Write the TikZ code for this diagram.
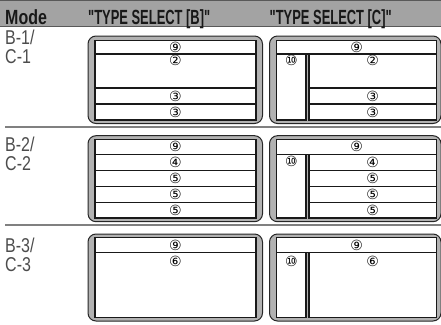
\documentclass[tikz,border=0pt]{standalone}
\usepackage{fontspec}
\setmainfont{Liberation Sans}
\newfontfamily\headfont{Liberation Sans}[FakeStretch=0.63]
\newfontfamily\modehead{Liberation Sans}[FakeStretch=0.78]
\newfontfamily\modefont{Liberation Sans}[FakeStretch=0.8]
\newfontfamily\circfont{DejaVu Sans}
\usetikzlibrary{positioning}
\begin{document}
\begin{tikzpicture}[x=1pt,y=-1pt,
  band/.style={fill=black!36, draw=black!65, line width=0.8pt},
  frame/.style={draw=black!85, fill=black!30, line width=1pt, rounded corners=8pt},
  row/.style={draw=black!90, fill=white, line width=1.1pt, inner sep=0pt, font=\circfont\fontsize{14}{14}\selectfont},
  sep/.style={draw=black!50, line width=1.3pt},
  num/.style={font=\circfont\fontsize{14}{14}\selectfont, inner sep=0pt},
  head/.style={anchor=base west, inner sep=0pt, text=black!90, font=\headfont\bfseries\fontsize{20.5}{20.5}\selectfont},
  modelbl/.style={anchor=base west, inner sep=0pt, text=black!70, font=\modefont\fontsize{20}{20}\selectfont}]
\useasboundingbox (0,0) rectangle (441,324);
% header
\draw[band] (-2,0.5) rectangle (443,26.5);
\node[head, font=\modehead\bfseries\fontsize{20.5}{20.5}\selectfont] (hmode) at (5,24.5) {Mode};
\node[head] (htypeb) at (88,24.5) {"TYPE SELECT [B]"};
\node[head] (htypec) at (269.5,24.5) {"TYPE SELECT [C]"};
% separators
\draw[sep] (5,127) -- (443,127);
\draw[sep] (5,225) -- (443,225);
% mode labels
\node[modelbl] (m1b) at (5,44) {B-1/};
\node[modelbl] (m1c) at (5,63) {C-1};
\node[modelbl] (m2b) at (5,151.5) {B-2/};
\node[modelbl] (m2c) at (5,170.5) {C-2};
\node[modelbl] (m3b) at (5,252.5) {B-3/};
\node[modelbl] (m3c) at (5,271.5) {C-3};
% B-1 / C-1
\draw[frame] (88,36) rectangle (262.5,123.5);
\node[row, minimum width=161pt, minimum height=13.3pt] (b1r9) at (175.5,47.35) {⑨};
\node[row, minimum width=161pt, minimum height=34pt] (b1r2) at (175.5,71) {};
\node[num, below=2pt of b1r2.north] (b1n2) {②};
\node[row, minimum width=161pt, minimum height=16pt] (b1r3a) at (175.5,96) {③};
\node[row, minimum width=161pt, minimum height=16pt] (b1r3b) at (175.5,112) {③};
\draw[frame] (269.5,36) rectangle (441,123.5);
\node[row, minimum width=159.8pt, minimum height=13.3pt] (c1r9) at (356.6,47.35) {⑨};
\node[row, minimum width=29.3pt, minimum height=66pt] (c1r10) at (291.35,87) {};
\node[num, below=2pt of c1r10.north] (c1n10) {⑩};
\node[row, minimum width=127.5pt, minimum height=34pt] (c1r2) at (372.75,71) {};
\node[num, below=2pt of c1r2.north] (c1n2) {②};
\node[row, minimum width=127.5pt, minimum height=16pt] (c1r3a) at (372.75,96) {③};
\node[row, minimum width=127.5pt, minimum height=16pt] (c1r3b) at (372.75,112) {③};
% B-2 / C-2
\draw[frame] (88,135.7) rectangle (262.5,221.7);
\node[row, minimum width=161pt, minimum height=15pt] (b2r9) at (175.5,146.8) {⑨};
\node[row, minimum width=161pt, minimum height=16pt] (b2r4) at (175.5,162.3) {④};
\node[row, minimum width=161pt, minimum height=16pt] (b2r5a) at (175.5,178.3) {⑤};
\node[row, minimum width=161pt, minimum height=16pt] (b2r5b) at (175.5,194.3) {⑤};
\node[row, minimum width=161pt, minimum height=15.7pt] (b2r5c) at (175.5,210.15) {⑤};
\draw[frame] (269.5,135.7) rectangle (441,221.7);
\node[row, minimum width=159.8pt, minimum height=15pt] (c2r9) at (356.6,146.8) {⑨};
\node[row, minimum width=29.3pt, minimum height=63.7pt] (c2r10) at (291.35,186.15) {};
\node[num, below=2pt of c2r10.north] (c2n10) {⑩};
\node[row, minimum width=127.5pt, minimum height=16pt] (c2r4) at (372.75,162.3) {④};
\node[row, minimum width=127.5pt, minimum height=16pt] (c2r5a) at (372.75,178.3) {⑤};
\node[row, minimum width=127.5pt, minimum height=16pt] (c2r5b) at (372.75,194.3) {⑤};
\node[row, minimum width=127.5pt, minimum height=15.7pt] (c2r5c) at (372.75,210.15) {⑤};
% B-3 / C-3
\draw[frame] (88,234) rectangle (262.5,321);
\node[row, minimum width=161pt, minimum height=15pt] (b3r9) at (175.5,245.2) {⑨};
\node[row, minimum width=161pt, minimum height=64.8pt] (b3r6) at (175.5,285.1) {};
\node[num, below=3.5pt of b3r6.north] (b3n6) {⑥};
\draw[frame] (269.5,234) rectangle (441,321);
\node[row, minimum width=159.8pt, minimum height=15pt] (c3r9) at (356.6,245.2) {⑨};
\node[row, minimum width=29.3pt, minimum height=64.8pt] (c3r10) at (291.35,285.1) {};
\node[num, below=3.5pt of c3r10.north] (c3n10) {⑩};
\node[row, minimum width=127.5pt, minimum height=64.8pt] (c3r6) at (372.75,285.1) {};
\node[num, below=3.5pt of c3r6.north] (c3n6) {⑥};
\end{tikzpicture}
\end{document}
